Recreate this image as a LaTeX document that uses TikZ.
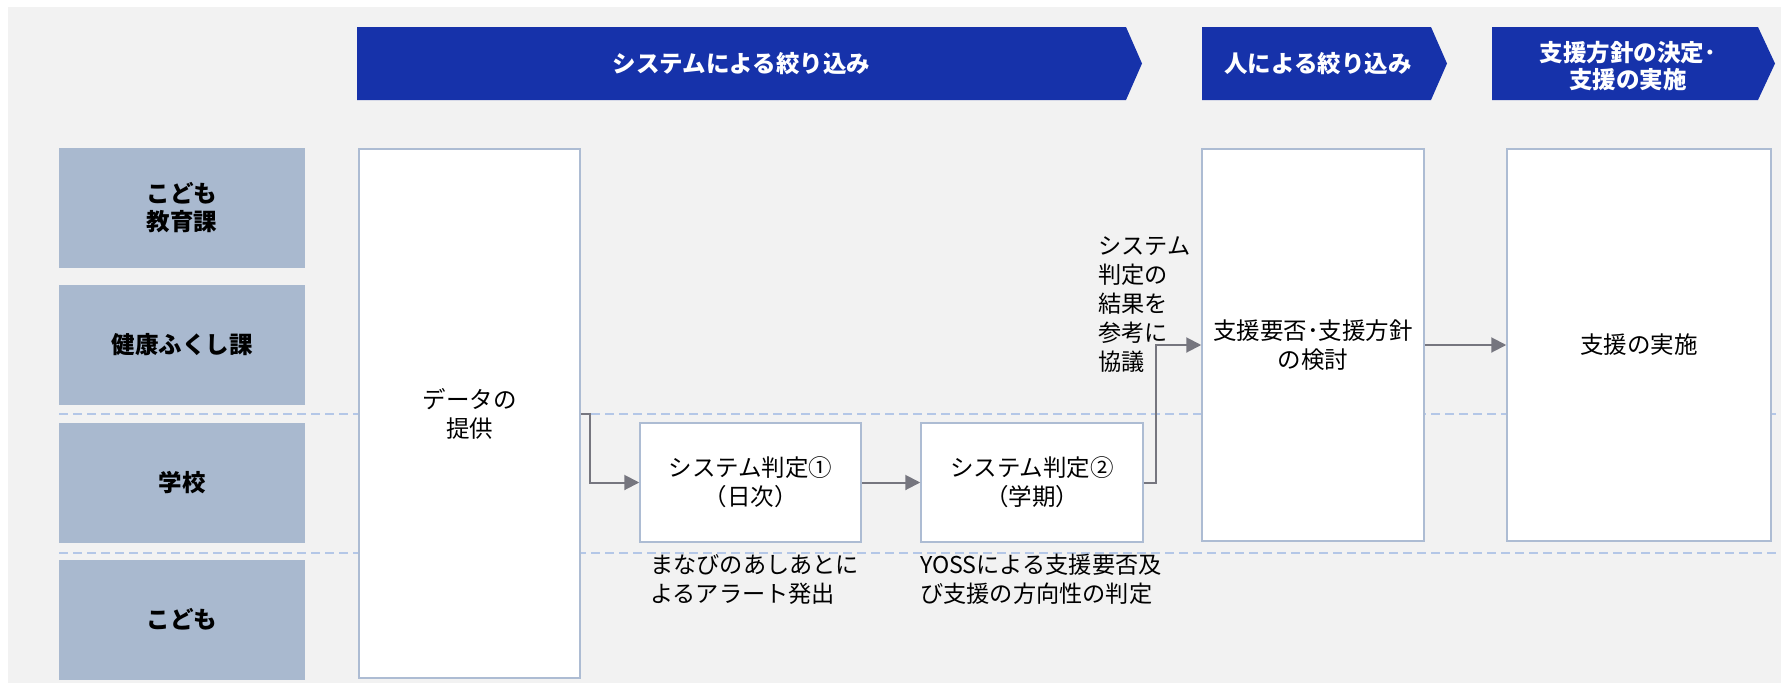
\documentclass[tikz,border=0pt]{standalone}
\usepackage{fontspec}
\setmainfont{Noto Sans CJK JP}
\usepackage{tikz}
\usetikzlibrary{positioning,arrows.meta}
\definecolor{bandblue}{HTML}{1632AA}
\definecolor{lanefill}{HTML}{A9B9CF}
\definecolor{boxline}{HTML}{ADBCD3}
\definecolor{dashblue}{HTML}{B4C7E7}
\definecolor{flowgray}{HTML}{76767F}
\definecolor{bggray}{HTML}{F2F2F2}
\begin{document}
\begin{tikzpicture}[x=1pt,y=-1pt,>={Triangle[length=15pt,width=15pt]},
 lane/.style={fill=lanefill,minimum width=246pt,minimum height=120pt,align=center,font=\fontsize{23.5}{28}\selectfont\bfseries},
 band/.style={text=white,align=center,font=\fontsize{23.5}{27}\selectfont\bfseries},
 procbox/.style={draw=boxline,line width=1.5pt,fill=white,align=center,font=\fontsize{23.5}{29}\selectfont},
 note/.style={align=left,inner sep=0pt,font=\fontsize{23.2}{29}\selectfont},
 flow/.style={draw=flowgray,line width=2pt,->},
 lanesep/.style={dashblue,line width=2.5pt,dash pattern=on 9pt off 5pt}]

 \useasboundingbox (0,0) rectangle (1781,683);
 \fill[bggray] (8,7) rectangle (1781,683);

 \draw[lanesep] (59,414) -- (1777,414);
 \draw[lanesep] (59,553) -- (1777,553);

 \fill[bandblue] (357,27) -- (1126,27) -- (1142,63.5) -- (1126,100) -- (357,100) -- cycle;
 \node[band] (sysband) at (741.5,63.5) {システムによる絞り込み};
 \fill[bandblue] (1202,27) -- (1431,27) -- (1447,63.5) -- (1431,100) -- (1202,100) -- cycle;
 \node[band] (humanband) at (1318,63.5) {人による絞り込み};
 \fill[bandblue] (1492,27) -- (1758,27) -- (1775,63.5) -- (1758,100) -- (1492,100) -- cycle;
 \node[band] (supportband) at (1628,66) {支援方針の決定･\\支援の実施};

 \node[lane] (edu) at (182,208) {こども\\教育課};
 \node[lane] (health) at (182,345) {健康ふくし課};
 \node[lane] (school) at (182,482.5) {学校};
 \node[lane] (child) at (182,619.5) {こども};

 \node[procbox,minimum width=221pt,minimum height=529pt] (data) at (469.5,413.5) {データの\\提供};
 \node[procbox,minimum width=221pt,minimum height=119pt] (judge1) at (750.5,482.5) {システム判定①\\（日次）};
 \node[procbox,minimum width=222pt,minimum height=119pt] (judge2) at (1032,482.5) {システム判定②\\（学期）};
 \node[procbox,minimum width=222pt,minimum height=392pt] (review) at (1313,345) {支援要否･支援方針\\の検討};
 \node[procbox,minimum width=264pt,minimum height=392pt] (impl) at (1639,345) {支援の実施};

 \draw[flow] (data.east) -- ++(9,0) |- (judge1.west);
 \draw[flow] (judge1) -- (judge2);
 \draw[flow] (judge2.east) -- ++(12,0) |- (review.west);
 \draw[flow] (review) -- (impl);

 \node[note,anchor=west] (consult) at (1098,305) {システム\\判定の\\結果を\\参考に\\協議};
 \node[note,anchor=west] (alert) at (650,579) {まなびのあしあとに\\よるアラート発出};
 \node[note,anchor=west] (yoss) at (920,579) {YOSSによる支援要否及\\び支援の方向性の判定};

\end{tikzpicture}
\end{document}
